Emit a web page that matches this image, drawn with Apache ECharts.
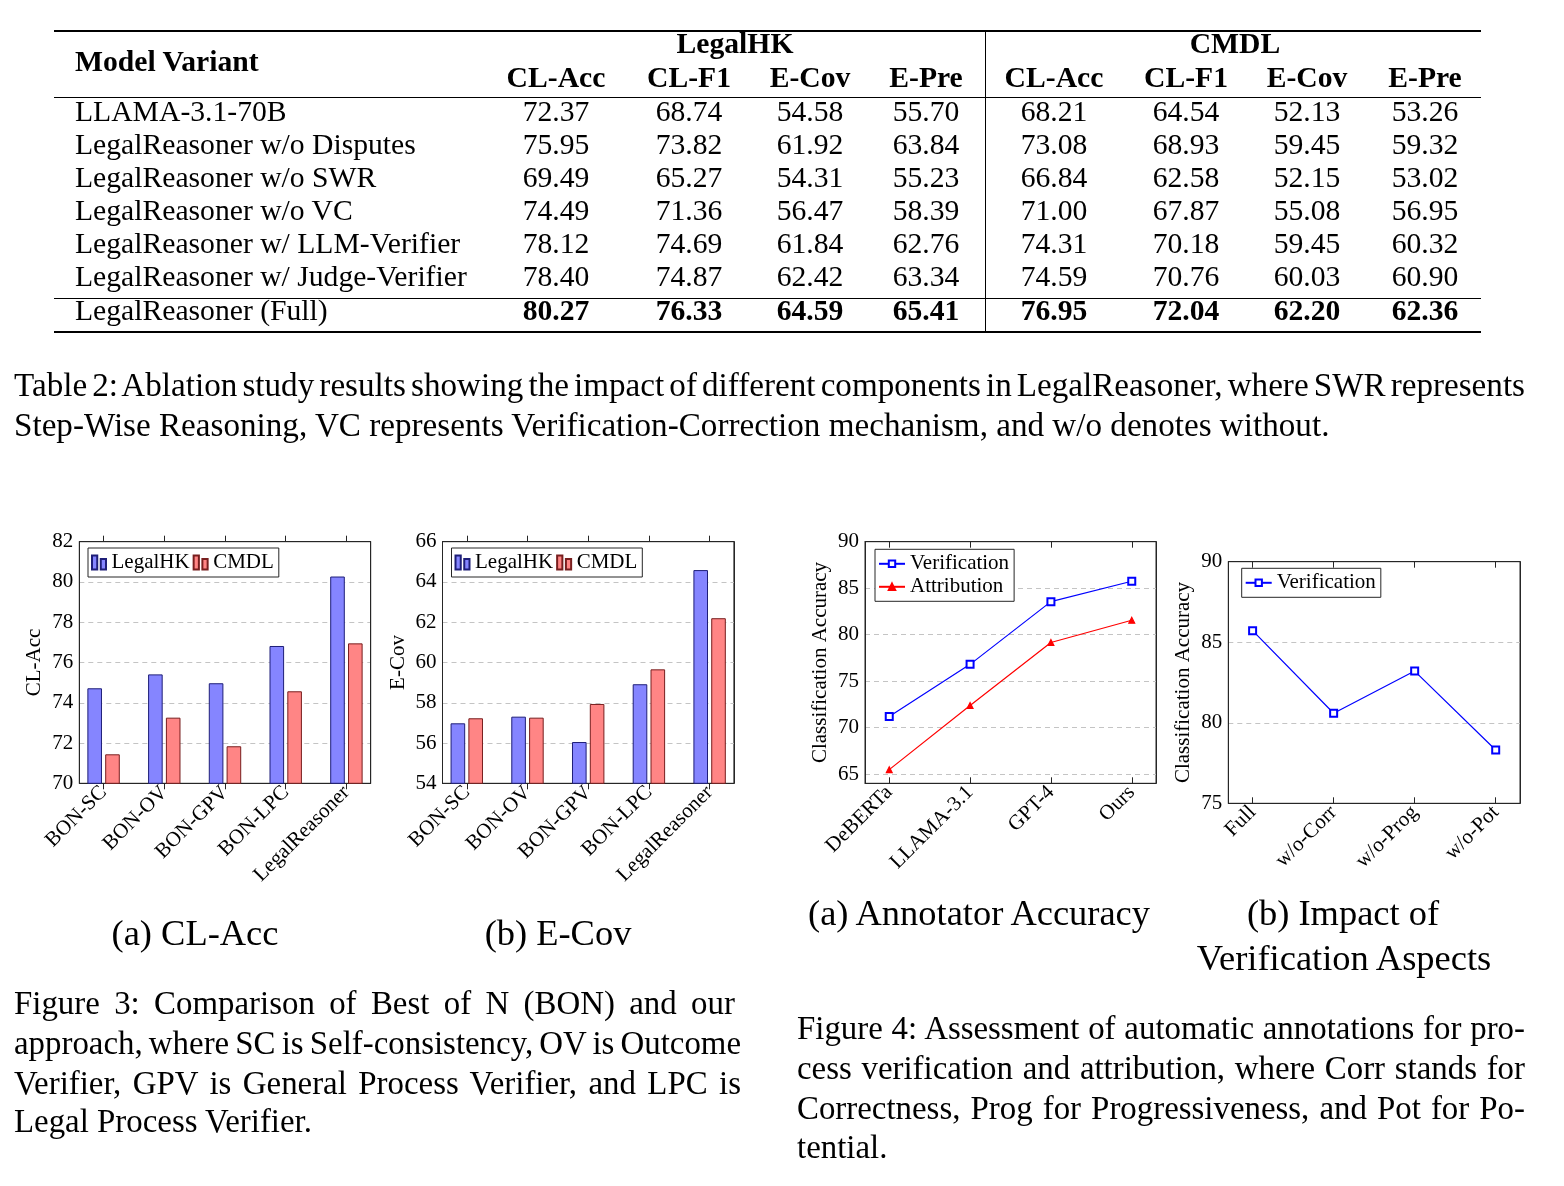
<!DOCTYPE html>
<html><head><meta charset="utf-8">
<script src="https://cdn.jsdelivr.net/npm/echarts@6/dist/echarts.min.js"></script>
<style>
html,body{margin:0;padding:0;background:#fff;}
#page{position:relative;width:1564px;height:1186px;overflow:hidden;font-family:'Liberation Serif','Times New Roman',serif;color:#000;background:#fff;}
#chart{position:absolute;left:0;top:0;width:1564px;height:1186px;}
.t{position:absolute;white-space:nowrap;line-height:1;z-index:2;}
.rule{position:absolute;background:#000;z-index:2;}
</style></head><body><div id="page"><div id="chart"></div></div>
<script>
// ---------------- data ----------------
const tableMetrics = ['CL-Acc', 'CL-F1', 'E-Cov', 'E-Pre'];
const tableDatasets = ['LegalHK', 'CMDL'];
const tableVariants = ['LLAMA-3.1-70B', 'LegalReasoner w/o Disputes', 'LegalReasoner w/o SWR', 'LegalReasoner w/o VC', 'LegalReasoner w/ LLM-Verifier', 'LegalReasoner w/ Judge-Verifier', 'LegalReasoner (Full)'];
const tableLegalHK = [[72.37, 68.74, 54.58, 55.70], [75.95, 73.82, 61.92, 63.84], [69.49, 65.27, 54.31, 55.23], [74.49, 71.36, 56.47, 58.39], [78.12, 74.69, 61.84, 62.76], [78.40, 74.87, 62.42, 63.34], [80.27, 76.33, 64.59, 65.41]];
const tableCMDL = [[68.21, 64.54, 52.13, 53.26], [73.08, 68.93, 59.45, 59.32], [66.84, 62.58, 52.15, 53.02], [71.00, 67.87, 55.08, 56.95], [74.31, 70.18, 59.45, 60.32], [74.59, 70.76, 60.03, 60.90], [76.95, 72.04, 62.20, 62.36]];

const bonMethods = ['BON-SC', 'BON-OV', 'BON-GPV', 'BON-LPC', 'LegalReasoner'];
const clAccLegalHK = [74.72, 75.41, 74.97, 76.82, 80.27];
const clAccCMDL = [71.44, 73.26, 71.84, 74.57, 76.95];
const eCovLegalHK = [56.98, 57.31, 56.05, 58.92, 64.59];
const eCovCMDL = [57.23, 57.26, 57.94, 59.66, 62.20];

const annotators = ['DeBERTa', 'LLAMA-3.1', 'GPT-4', 'Ours'];
const annotVerification = [71.2, 76.8, 83.55, 85.74];
const annotAttribution = [65.47, 72.38, 79.15, 81.55];

const aspects = ['Full', 'w/o-Corr', 'w/o-Prog', 'w/o-Pot'];
const aspectVerification = [85.72, 80.59, 83.21, 78.31];

const tableCaption = ['Table 2: Ablation study results showing the impact of different components in LegalReasoner, where SWR represents', 'Step-Wise Reasoning, VC represents Verification-Correction mechanism, and w/o denotes without.'];
const fig3Sub = ['(a) CL-Acc', '(b) E-Cov'];
const fig4Sub = ['(a) Annotator Accuracy', '(b) Impact of', 'Verification Aspects'];
const fig3Caption = ['Figure 3:  Comparison of Best of N (BON) and our', 'approach, where SC is Self-consistency, OV is Outcome', 'Verifier, GPV is General Process Verifier, and LPC is', 'Legal Process Verifier.'];
const fig4Caption = ['Figure 4: Assessment of automatic annotations for pro-', 'cess verification and attribution, where Corr stands for', 'Correctness, Prog for Progressiveness, and Pot for Po-', 'tential.'];

// ---------------- text helpers ----------------
const page = document.getElementById('page');
function measure(str, size, bold) {
  const d = document.createElement('div');
  d.className = 't'; d.textContent = str; d.style.fontSize = size + 'px';
  if (bold) d.style.fontWeight = 'bold';
  d.style.visibility = 'hidden';
  page.appendChild(d);
  const w = d.getBoundingClientRect().width;
  page.removeChild(d);
  return w;
}
function fit(str, target, bold) { return 100 * target / measure(str, 100, bold); }
// o: {x, base | cy, size, bold, align, justify}
function addText(str, o) {
  const d = document.createElement('div');
  d.className = 't'; d.textContent = str; d.style.fontSize = o.size + 'px';
  if (o.bold) d.style.fontWeight = 'bold';
  page.appendChild(d);
  let w = d.getBoundingClientRect().width;
  if (o.justify) {
    const n = (str.match(/ /g) || []).length;
    if (n > 0) d.style.wordSpacing = ((o.justify - w) / n) + 'px';
    w = o.justify;
  }
  let left = o.x;
  if (o.align === 'center') left = o.x - w / 2;
  if (o.align === 'right') left = o.x - w;
  d.style.left = left + 'px';
  const top = (o.base != null) ? (o.base - 0.8375 * o.size) : (o.cy - 0.5 * o.size);
  d.style.top = top + 'px';
  return d;
}
function rule(x, y, w, h) {
  const d = document.createElement('div');
  d.className = 'rule';
  Object.assign(d.style, {left: x + 'px', top: y + 'px', width: w + 'px', height: h + 'px'});
  page.appendChild(d);
}

// ---------------- table ----------------
const tSize = fit('LegalReasoner w/ Judge-Verifier', 392, false);
const colCenters = [556, 689, 810, 926, 1054, 1186, 1307, 1425];
const rowBase = [121.7, 154.7, 187.7, 220.7, 253.7, 286.7, 321];
rule(54, 30.3, 1427, 1.5);
rule(54, 97, 1427, 1);
rule(54, 297.5, 1427, 1);
rule(54, 331.3, 1427, 1.5);
rule(984.5, 30.3, 1, 302.5);
addText('Model Variant', {x: 75, base: 71.7, size: tSize, bold: true});
addText(tableDatasets[0], {x: 735, base: 54, size: tSize, bold: true, align: 'center'});
addText(tableDatasets[1], {x: 1235, base: 54, size: tSize, bold: true, align: 'center'});
for (let c = 0; c < 8; c++) {
  addText(tableMetrics[c % 4], {x: colCenters[c], base: 88.3, size: tSize, bold: true, align: 'center'});
}
tableVariants.forEach((v, r) => {
  addText(v, {x: 75, base: rowBase[r], size: tSize});
  const vals = tableLegalHK[r].concat(tableCMDL[r]);
  const bold = r === tableVariants.length - 1;
  vals.forEach((val, c) => addText(val.toFixed(2), {x: colCenters[c], base: rowBase[r], size: tSize, bold, align: 'center'}));
});

// ---------------- captions ----------------
const capSize = fit(tableCaption[1], 1316, false);
addText(tableCaption[0], {x: 14, cy: 385, size: capSize, justify: 1511});
addText(tableCaption[1], {x: 14, cy: 425, size: capSize});

const figCapSize = fit('Legal Process Verifier.', 298, false);
const f3y = [1003, 1043, 1083, 1121];
fig3Caption.forEach((s, k) => addText(s, {x: 14, cy: f3y[k], size: figCapSize, justify: k < 3 ? 727 : null}));
const f4y = [1028, 1068, 1108, 1147];
fig4Caption.forEach((s, k) => addText(s, {x: 797, cy: f4y[k], size: figCapSize, justify: k < 3 ? 728 : null}));

const subSize = fit(fig4Sub[0], 342, false);
addText(fig3Sub[0], {x: 195, cy: 933, size: subSize, align: 'center'});
addText(fig3Sub[1], {x: 558, cy: 933, size: subSize, align: 'center'});
addText(fig4Sub[0], {x: 979, cy: 913, size: subSize, align: 'center'});
addText(fig4Sub[1], {x: 1343, cy: 913, size: subSize, align: 'center'});
addText(fig4Sub[2], {x: 1344, cy: 958, size: subSize, align: 'center'});

// ---------------- charts ----------------
const FONT = "'Liberation Serif', 'Times New Roman', serif";
const TXT = {fontFamily: FONT, fontSize: 21, color: '#000'};
const FRAME = '#262626';
const barIcon = 'path://M0,0H3V8H0Z M5,2H8V8H5Z';
const barStyles = [
  {color: '#8585ff', borderColor: '#1e1e78', borderWidth: 1},
  {color: '#ff8585', borderColor: '#781e1e', borderWidth: 1}
];
const lineColors = ['#0000ff', '#ff0000'];

const panels = [
  {type: 'bar', box: [79.3, 541.7, 291.4, 241.6], cats: bonMethods, series: [['LegalHK', clAccLegalHK], ['CMDL', clAccCMDL]], y: [70, 82, 2], yName: 'CL-Acc', legend: [88, 548]},
  {type: 'bar', box: [442.5, 541.7, 291.4, 241.6], cats: bonMethods, series: [['LegalHK', eCovLegalHK], ['CMDL', eCovCMDL]], y: [54, 66, 2], yName: 'E-Cov', legend: [451.5, 548]},
  {type: 'line', box: [865, 541.7, 291, 241.6], cats: annotators, series: [['Verification', annotVerification], ['Attribution', annotAttribution]], y: [64, 90, null, [65, 70, 75, 80, 85, 90]], yName: 'Classification Accuracy', legend: [875, 549.3]},
  {type: 'line', box: [1228.3, 561.7, 291.7, 241.6], cats: aspects, series: [['Verification', aspectVerification]], y: [75, 90, 5], yName: 'Classification Accuracy', legend: [1241.7, 568.3]}
];

const grid = [], xAxis = [], yAxis = [], series = [], legend = [];
panels.forEach((p, i) => {
  const [L, T, W, H] = p.box;
  grid.push({left: L, top: T, width: W, height: H, show: true, borderColor: FRAME, borderWidth: 1, backgroundColor: 'transparent', containLabel: false});
  const n = p.cats.length;
  const pad = p.type === 'bar' ? 0.4 : 0.3;
  const idx = p.cats.map((c, k) => k);
  const inside = p.type === 'line';
  const xb = () => ({
    type: 'value', gridIndex: i, min: -pad, max: n - 1 + pad,
    splitLine: {show: false},
    axisLine: {show: true, onZero: false, lineStyle: {color: FRAME, width: 1}},
    axisTick: {show: true, inside: inside, length: 6, customValues: idx, lineStyle: {color: FRAME}}
  });
  xAxis.push(Object.assign(xb(), {position: 'bottom', axisLabel: Object.assign({show: true, customValues: idx, rotate: 45, margin: 6, formatter: v => p.cats[Math.round(v)] || ''}, TXT)}));
  xAxis.push(Object.assign(xb(), {position: 'top', axisLabel: {show: false}}));

  const yl = {
    type: 'value', gridIndex: i, min: p.y[0], max: p.y[1], position: 'left',
    axisLine: {show: true, onZero: false, lineStyle: {color: FRAME, width: 1}},
    axisTick: {show: false},
    splitLine: {show: true, lineStyle: {color: '#c4c4c4', type: [5, 4], width: 1}},
    axisLabel: Object.assign({show: true, margin: 6}, TXT),
    name: p.yName, nameLocation: 'middle', nameRotate: 90, nameGap: 34,
    nameTextStyle: Object.assign({}, TXT)
  };
  if (p.y[2]) {
    yl.interval = p.y[2];
  } else {
    yl.interval = p.y[1] - p.y[0];
    yl.axisTick.customValues = p.y[3];
    yl.axisLabel.customValues = p.y[3];
  }
  yAxis.push(yl);
  yAxis.push({type: 'value', gridIndex: i, min: p.y[0], max: p.y[1], position: 'right', interval: p.y[1] - p.y[0],
    axisLine: {show: true, onZero: false, lineStyle: {color: FRAME, width: 1}}, axisTick: {show: false}, axisLabel: {show: false}, splitLine: {show: false}});

  p.series.forEach(([name, vals], s) => {
    const data = vals.map((v, k) => [k, v]);
    if (p.type === 'bar') {
      series.push({type: 'bar', name, xAxisIndex: 2 * i, yAxisIndex: 2 * i, data, barWidth: 14.6, barGap: '22%', clip: true,
        itemStyle: barStyles[s], emphasis: {disabled: true}, z: 2});
    } else {
      const col = lineColors[s];
      series.push({type: 'line', name, xAxisIndex: 2 * i, yAxisIndex: 2 * i, data,
        symbol: s === 0 ? 'emptyRect' : 'triangle', symbolSize: s === 0 ? 7 : 6, showSymbol: true,
        lineStyle: {color: col, width: 1.2}, itemStyle: {color: col, borderColor: col, borderWidth: 1.1},
        emphasis: {disabled: true}, z: 3});
    }
  });

  const lg = {
    left: p.legend[0], top: p.legend[1], orient: p.type === 'bar' ? 'horizontal' : 'vertical',
    data: p.series.map(s => s[0]), backgroundColor: '#fff', borderColor: FRAME, borderWidth: 1, borderRadius: 0,
    padding: [4, 5, 4, 3], itemGap: p.type === 'bar' ? 3 : 2,
    itemWidth: p.type === 'bar' ? 15 : 26, itemHeight: p.type === 'bar' ? 14 : 8,
    textStyle: Object.assign({lineHeight: 21}, TXT), selectedMode: false, z: 10
  };
  if (p.type === 'bar') lg.icon = barIcon;
  legend.push(lg);
});

const chart = echarts.init(document.getElementById('chart'), null, {renderer: 'canvas'});
chart.setOption({animation: false, backgroundColor: '#fff', grid, xAxis, yAxis, series, legend, tooltip: {show: false}});
</script></body></html>
